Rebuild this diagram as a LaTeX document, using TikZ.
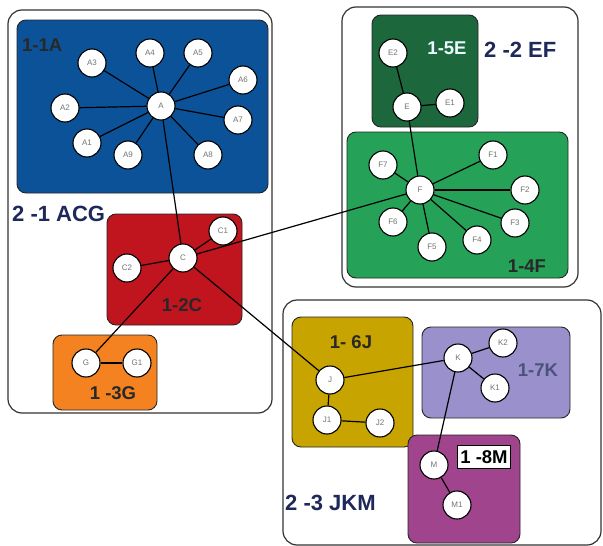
\documentclass[tikz,border=0pt]{standalone}
\usepackage{fontspec}
\setmainfont{Liberation Sans}
\definecolor{cblue}{RGB}{12,82,152}
\definecolor{cred}{RGB}{192,20,30}
\definecolor{corange}{RGB}{245,130,32}
\definecolor{cdkgreen}{RGB}{28,104,60}
\definecolor{cgreen}{RGB}{38,162,88}
\definecolor{cgold}{RGB}{200,164,0}
\definecolor{clav}{RGB}{154,144,204}
\definecolor{cmag}{RGB}{160,68,142}
\definecolor{cnavy}{RGB}{30,40,90}
\definecolor{ctext}{RGB}{40,40,40}
\tikzset{
  outerbox/.style={draw=black!80, line width=1.2pt, rounded corners=14pt, fill=white},
  groupbox/.style={draw=black!85, line width=0.9pt, rounded corners=9pt},
  vnode/.style={circle, draw=black, line width=1.1pt, fill=white, minimum size=28pt, inner sep=0pt,
    font=\fontsize{8}{8}\selectfont, text=black!55},
  edge/.style={line width=1.2pt, black},
  glabel/.style={font=\bfseries\fontsize{18.5}{18.5}\selectfont, text=ctext, inner sep=0pt},
  olabel/.style={font=\bfseries\fontsize{22}{22}\selectfont, text=cnavy, inner sep=0pt}
}
\begin{document}
\begin{tikzpicture}[x=1pt,y=-1pt]
\useasboundingbox (0,0) rectangle (603,546);
\fill[white] (0,0) rectangle (603,546);
% outer boxes
\draw[outerbox] (8,10) rectangle (272,413);
\draw[outerbox] (342,7) rectangle (578,287);
\draw[outerbox] (283,300) rectangle (601,545);
% group boxes
\draw[groupbox, fill=cblue] (17,20) rectangle (268,193);
\draw[groupbox, fill=cred] (107,214) rectangle (242,325);
\draw[groupbox, fill=corange] (53,335) rectangle (157,410);
\draw[groupbox, fill=cdkgreen] (372,15) rectangle (478,127);
\draw[groupbox, fill=cgreen] (347,132) rectangle (568,278);
\draw[groupbox, fill=cgold] (292,317) rectangle (413,447);
\draw[groupbox, fill=clav] (422,327) rectangle (570,418);
\draw[groupbox, fill=cmag] (408,435) rectangle (520,543);
% group labels
\node[glabel, anchor=west] (l11) at (22,45) {1-1A};
\node[glabel] (l12) at (182,305) {1-2C};
\node[glabel] (l13) at (113,393) {1 -3G};
\node[glabel, text=white!92!cyan] (l15) at (447,48) {1-5E};
\node[glabel] (l14) at (527,266) {1-4F};
\node[glabel] (l16) at (351,342) {1- 6J};
\node[glabel, text=cnavy!80] (l17) at (538,370) {1-7K};
\node[glabel, draw=black, line width=0.8pt, fill=white, inner xsep=3pt, inner ysep=5pt, text=black] (l18) at (484,457) {1 -8M};
\node[olabel, anchor=west] (o1) at (12,214) {2 -1 ACG};
\node[olabel, anchor=west] (o2) at (484,50) {2 -2 EF};
\node[olabel, anchor=west] (o3) at (285,503) {2 -3 JKM};
% nodes A
\node[vnode] (A) at (161,106) {A};
\node[vnode] (A3) at (92,63) {A3};
\node[vnode] (A4) at (150,53) {A4};
\node[vnode] (A5) at (198,53) {A5};
\node[vnode] (A6) at (243,80) {A6};
\node[vnode] (A7) at (238,120) {A7};
\node[vnode] (A2) at (65,108) {A2};
\node[vnode] (A1) at (87,143) {A1};
\node[vnode] (A9) at (128,155) {A9};
\node[vnode] (A8) at (208,155) {A8};
% C, G
\node[vnode] (C) at (183,258) {C};
\node[vnode] (C1) at (223,231) {C1};
\node[vnode] (C2) at (127,268) {C2};
\node[vnode] (G) at (86,363) {G};
\node[vnode] (G1) at (137,363) {G1};
% E, F
\node[vnode] (E2) at (393,53) {E2};
\node[vnode] (E) at (407,107) {E};
\node[vnode] (E1) at (450,103) {E1};
\node[vnode] (F) at (420,190) {F};
\node[vnode] (F7) at (383,165) {F7};
\node[vnode] (F1) at (493,155) {F1};
\node[vnode] (F2) at (525,190) {F2};
\node[vnode] (F3) at (515,223) {F3};
\node[vnode] (F4) at (477,240) {F4};
\node[vnode] (F5) at (432,247) {F5};
\node[vnode] (F6) at (393,222) {F6};
% J, K, M
\node[vnode] (J) at (330,380) {J};
\node[vnode] (J1) at (327,420) {J1};
\node[vnode] (J2) at (380,423) {J2};
\node[vnode] (K) at (458,358) {K};
\node[vnode] (K2) at (503,343) {K2};
\node[vnode] (K1) at (495,388) {K1};
\node[vnode] (M) at (434,465) {M};
\node[vnode] (M1) at (457,505) {M1};
% edges
\foreach \n in {A1,A2,A3,A4,A5,A6,A7,A8,A9} \draw[edge] (A) -- (\n);
\draw[edge] (A) -- (C);
\draw[edge] (C) -- (C1);
\draw[edge] (C) -- (C2);
\draw[edge] (C) -- (G);
\draw[edge] (G) -- (G1);
\draw[edge] (C) -- (F);
\draw[edge] (C) -- (J);
\draw[edge] (E) -- (E2);
\draw[edge] (E) -- (E1);
\draw[edge] (E) -- (F);
\foreach \n in {F1,F2,F3,F4,F5,F6,F7} \draw[edge] (F) -- (\n);
\draw[edge] (J) -- (J1);
\draw[edge] (J1) -- (J2);
\draw[edge] (J) -- (K);
\draw[edge] (K) -- (K1);
\draw[edge] (K) -- (K2);
\draw[edge] (K) -- (M);
\draw[edge] (M) -- (M1);
\end{tikzpicture}
\end{document}
